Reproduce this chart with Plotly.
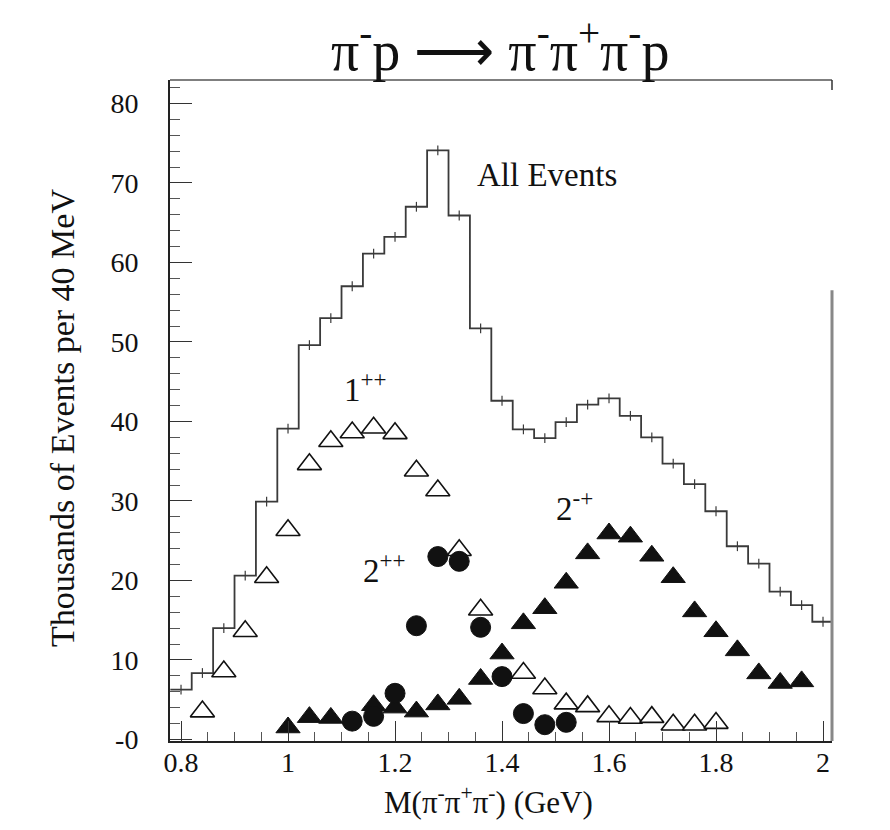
import plotly.graph_objects as go

# ---------------- data ----------------
# "All Events" histogram, 40 MeV bins (bin centres in GeV, thousands of events)
all_mass = [0.80, 0.84, 0.88, 0.92, 0.96, 1.00, 1.04, 1.08, 1.12, 1.16, 1.20,
            1.24, 1.28, 1.32, 1.36, 1.40, 1.44, 1.48, 1.52, 1.56, 1.60, 1.64,
            1.68, 1.72, 1.76, 1.80, 1.84, 1.88, 1.92, 1.96, 2.00]
all_events = [6.25, 8.35, 14.0, 20.6, 29.9, 39.1, 49.6, 53.0, 57.0, 61.1, 63.2,
              67.0, 74.1, 65.9, 51.7, 42.6, 39.0, 37.9, 39.9, 42.1, 42.9, 40.7,
              38.0, 34.7, 32.1, 28.7, 24.3, 22.1, 18.6, 16.9, 14.8]
bin_width = 0.04

# 1++ wave (open triangles)
m_1pp = [0.84, 0.88, 0.92, 0.96, 1.00, 1.04, 1.08, 1.12, 1.16, 1.20, 1.24, 1.28,
         1.32, 1.36, 1.44, 1.48, 1.52, 1.56, 1.60, 1.64, 1.68, 1.72, 1.76, 1.80]
v_1pp = [3.5, 8.55, 13.6, 20.4, 26.3, 34.6, 37.5, 38.6, 39.2, 38.5, 33.8, 31.3,
         23.8, 16.3, 8.35, 6.4, 4.5, 4.15, 2.9, 2.7, 2.8, 1.85, 1.85, 2.05]

# 2++ wave (filled circles)
m_2pp = [1.12, 1.16, 1.20, 1.24, 1.28, 1.32, 1.36, 1.40, 1.44, 1.48, 1.52]
v_2pp = [2.3, 2.9, 5.8, 14.3, 23.0, 22.4, 14.1, 7.9, 3.25, 1.85, 2.15]

# 2-+ wave (filled triangles)
m_2mp = [1.00, 1.04, 1.08, 1.16, 1.20, 1.24, 1.28, 1.32, 1.36, 1.40, 1.44, 1.48,
         1.52, 1.56, 1.60, 1.64, 1.68, 1.72, 1.76, 1.80, 1.84, 1.88, 1.92, 1.96]
v_2mp = [1.5, 2.8, 2.7, 4.3, 4.0, 3.5, 4.4, 5.1, 7.6, 10.8, 14.6, 16.5,
         19.7, 23.4, 25.9, 25.5, 23.1, 20.4, 16.1, 13.6, 11.2, 8.3, 7.1, 7.3]

x_tickvals = [0.8, 1.0, 1.2, 1.4, 1.6, 1.8, 2.0]
x_ticktext = ["0.8", "1", "1.2", "1.4", "1.6", "1.8", "2"]
y_tickvals = [0, 10, 20, 30, 40, 50, 60, 70, 80]
y_ticktext = ["-0", "10", "20", "30", "40", "50", "60", "70", "80"]

# ---------------- figure ----------------
SERIF = "Liberation Serif, Times New Roman, serif"
INK = "#111111"
HIST = "#3a3a3a"

step_x = [m - bin_width / 2 for m in all_mass] + [all_mass[-1] + bin_width / 2]
step_y = all_events + [all_events[-1]]

fig = go.Figure()

fig.add_trace(go.Scatter(
    x=step_x, y=step_y, mode="lines", line=dict(color=HIST, width=1.8, shape="hv"),
    hoverinfo="skip", showlegend=False))
# small error ticks on histogram
fig.add_trace(go.Scatter(
    x=all_mass, y=all_events, mode="markers",
    marker=dict(symbol="line-ns-open", size=7, color=HIST,
                line=dict(color=HIST, width=1.2)),
    hoverinfo="skip", showlegend=False))

fig.add_trace(go.Scatter(
    x=m_1pp, y=v_1pp, mode="markers", name="1++",
    marker=dict(symbol="triangle-up", size=21, color="white",
                line=dict(color=INK, width=1.6)),
    showlegend=False))
fig.add_trace(go.Scatter(
    x=m_2mp, y=v_2mp, mode="markers", name="2-+",
    marker=dict(symbol="triangle-up", size=21, color=INK,
                line=dict(color=INK, width=1)),
    showlegend=False))
fig.add_trace(go.Scatter(
    x=m_2pp, y=v_2pp, mode="markers", name="2++",
    marker=dict(symbol="circle", size=20, color=INK,
                line=dict(color=INK, width=1)),
    showlegend=False))

# page has an 8px body margin: figure pixel = page pixel - OFF
OFF = 8
W, H = 874, 814
PL, PR, PT, PB = 170, 832, 80, 741          # plot box in page pixels
L, T = PL - OFF, PT - OFF
R, B = W - (PR - OFF), H - (PB - OFF)
plot_w = W - L - R
plot_h = H - T - B
px_per_unit = 7.95
y_lo = -0.2
y_hi = y_lo + plot_h / px_per_unit


def px(page_x):
    return (page_x - OFF - L) / plot_w


def py(page_y):
    return (H - B - (page_y - OFF)) / plot_h


fig.update_layout(
    width=W, height=H,
    margin=dict(l=L, r=R, t=T, b=B, autoexpand=False),
    paper_bgcolor="white", plot_bgcolor="white",
    font=dict(family=SERIF, color=INK),
    showlegend=False,
    xaxis=dict(
        range=[0.7794, 2.0168], automargin=False,
        tickmode="array", tickvals=x_tickvals, ticktext=x_ticktext,
        ticks="inside", ticklen=20, tickwidth=1.3, tickcolor="#333",
        minor=dict(dtick=0.05, tick0=0.8, ticks="inside", ticklen=9,
                   tickwidth=1, tickcolor="#555"),
        showgrid=False, zeroline=False,
        showline=True, linecolor="#222", linewidth=2,
        tickfont=dict(family=SERIF, size=28, color=INK),
        ticklabelstandoff=-5,
    ),
    yaxis=dict(
        range=[y_lo, y_hi], automargin=False,
        tickmode="array", tickvals=y_tickvals, ticktext=y_ticktext,
        ticks="inside", ticklen=22, tickwidth=1.3, tickcolor="#333",
        minor=dict(dtick=2, tick0=0, ticks="inside", ticklen=10,
                   tickwidth=1, tickcolor="#555"),
        showgrid=False, zeroline=False,
        showline=True, linecolor="#222", linewidth=2,
        tickfont=dict(family=SERIF, size=28, color=INK),
        ticklabelstandoff=24,
    ),
    shapes=[
        dict(type="line", xref="paper", yref="paper", x0=0, x1=1, y0=1, y1=1,
             line=dict(color="#555", width=1.5)),
        dict(type="line", xref="paper", yref="y", x0=1, x1=1, y0=y_lo, y1=56.5,
             line=dict(color="#888", width=3)),
        dict(type="line", xref="paper", yref="paper", x0=1, x1=1, y0=1, y1=0.985,
             line=dict(color="#333", width=1.5)),
    ],
    annotations=[
        dict(text="π<sup>-</sup>p ⟶ π<sup>-</sup>π<sup>+</sup>π<sup>-</sup>p",
             x=px(500), y=py(47),
             xref="paper", yref="paper", xanchor="center", yanchor="middle",
             showarrow=False, font=dict(family=SERIF, size=56, color=INK)),
        dict(text="All Events", x=1.485, y=71.0, xref="x", yref="y",
             showarrow=False, font=dict(family=SERIF, size=33, color=INK)),
        dict(text="1<sup>++</sup>", x=1.144, y=44.3, xref="x", yref="y",
             showarrow=False, font=dict(family=SERIF, size=33, color=INK)),
        dict(text="2<sup>++</sup>", x=1.181, y=21.5, xref="x", yref="y",
             showarrow=False, font=dict(family=SERIF, size=33, color=INK)),
        dict(text="2<sup>-+</sup>", x=1.535, y=29.3, xref="x", yref="y",
             showarrow=False, font=dict(family=SERIF, size=33, color=INK)),
        dict(text="Thousands of Events per 40 MeV", textangle=-90,
             x=px(62), y=py(418),
             xref="paper", yref="paper", xanchor="center", yanchor="middle",
             showarrow=False, font=dict(family=SERIF, size=34, color=INK)),
        dict(text="M(π<sup>-</sup>π<sup>+</sup>π<sup>-</sup>) (GeV)",
             x=px(488), y=py(800),
             xref="paper", yref="paper", xanchor="center", yanchor="middle",
             showarrow=False, font=dict(family=SERIF, size=31, color=INK)),
    ],
)

fig.write_html("out.html")
